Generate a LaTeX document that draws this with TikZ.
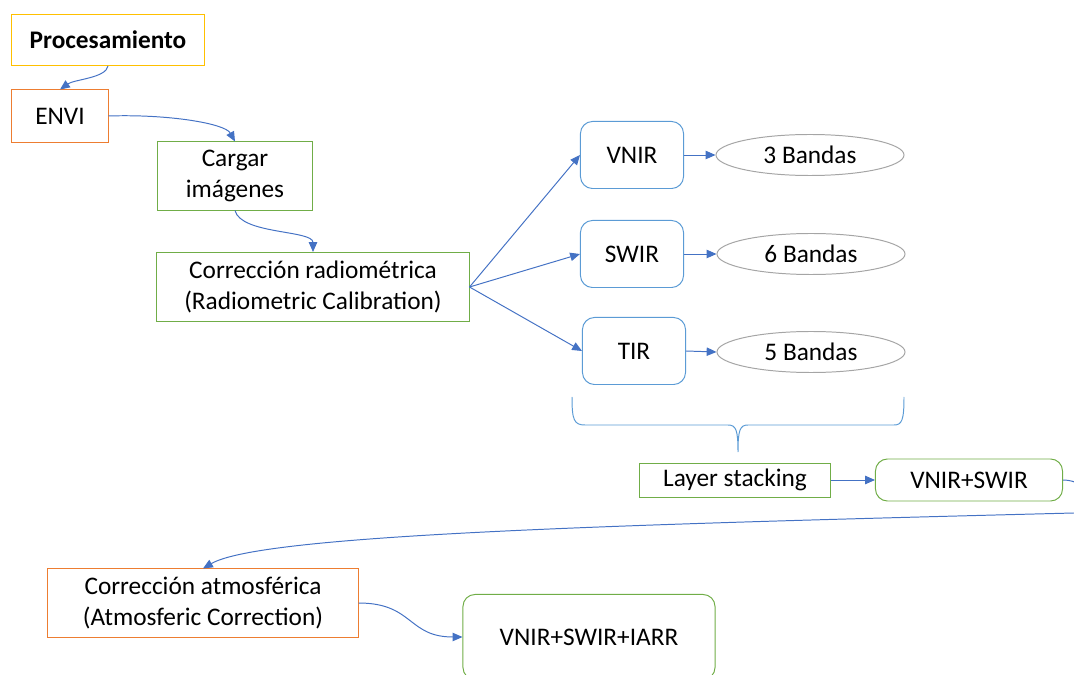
\documentclass[tikz,border=0pt]{standalone}
\usepackage{fontspec}
\setmainfont{Carlito}
\usetikzlibrary{arrows.meta,shapes.geometric}
\definecolor{amarillo}{HTML}{FFC000}
\definecolor{naranja}{HTML}{ED7D31}
\definecolor{verde}{HTML}{70AD47}
\definecolor{celeste}{HTML}{5B9BD5}
\definecolor{flecha}{HTML}{4472C4}
\definecolor{gris}{HTML}{A5A5A5}
\begin{document}
\begin{tikzpicture}[x=0.025cm,y=-0.025cm,
  >={Triangle[length=7pt,width=6pt]},
  caja/.style={draw,line width=0.7pt,align=center,inner sep=0pt,
    font=\fontsize{18}{22}\selectfont},
  amar/.style={caja,draw=amarillo},
  nar/.style={caja,draw=naranja},
  ver/.style={caja,draw=verde},
  verr/.style={caja,draw=verde,rounded corners=0.3cm},
  banda/.style={caja,draw=celeste,rounded corners=0.3cm,
    minimum width=2.575cm,minimum height=1.675cm},
  elip/.style={caja,draw=gris,ellipse,minimum width=4.7cm,minimum height=1.025cm},
  flec/.style={->,draw=flecha,line width=0.7pt}]
\useasboundingbox (0,0) rectangle (1074,675);
\node[amar,minimum width=4.825cm,minimum height=1.275cm,font=\fontsize{18}{22}\selectfont\bfseries] (proc) at (108,40) {Procesamiento};
\node[nar,minimum width=2.4cm,minimum height=1.3cm] (envi) at (60,116) {ENVI};
\node[ver,minimum width=3.875cm,minimum height=1.7cm] (cargar) at (235,176) {Cargar\\im\'agenes};
\node[ver,minimum width=7.8cm,minimum height=1.725cm] (radio) at (313,287) {Correcci\'on radiom\'etrica\\(Radiometric Calibration)};
\node[banda] (vnir) at (632,155) {VNIR};
\node[banda] (swir) at (632,254) {SWIR};
\node[banda] (tir) at (634,351) {TIR};
\node[elip] (b3) at (810,155) {3 Bandas};
\node[elip] (b6) at (811,254) {6 Bandas};
\node[elip] (b5) at (811,352) {5 Bandas};
\node[ver,minimum width=4.775cm,minimum height=0.85cm] (stack) at (735,480) {Layer stacking};
\node[verr,minimum width=4.675cm,minimum height=1.05cm] (vs) at (969,480) {VNIR+SWIR};
\node[nar,minimum width=7.75cm,minimum height=1.7cm] (atmos) at (203,603) {Correcci\'on atmosf\'erica\\(Atmosferic Correction)};
\node[verr,minimum width=6.3cm,minimum height=2.125cm] (iarr) at (589,637) {VNIR+SWIR+IARR};

\draw[flec] (proc.south) .. controls +(-2,12) and +(14,-10) .. (envi.north);
\draw[flec] (envi.east) .. controls +(60,-2) and +(-10,-18) .. (cargar.north);
\draw[flec] (cargar.south) .. controls +(6,24) and +(0,-22) .. (radio.north);
\draw[flec] (radio.east) -- (vnir.west);
\draw[flec] (radio.east) -- (swir.west);
\draw[flec] (radio.east) -- (tir.west);
\draw[flec] (vnir.east) -- (b3.west);
\draw[flec] (swir.east) -- (b6.west);
\draw[flec] (tir.east) -- (b5.west);
\draw[flec] (stack.east) -- (vs.west);
\draw[flec] (vs.east) .. controls +(25,0) and (1110,508) .. (1074,513)
  .. controls (600,525) and (260,535) .. (atmos.north);
\draw[flec] (atmos.east) .. controls +(55,0) and +(-55,0) .. (iarr.west);

% llave
\draw[celeste,line width=0.7pt] (572,397) .. controls (572,420) and (574,425) .. (585,425) -- (728,425)
  .. controls (736,425) and (738,430) .. (738,452)
  .. controls (738,430) and (740,425) .. (748,425) -- (894,425)
  .. controls (902,425) and (904,420) .. (904,397);
\end{tikzpicture}
\end{document}
